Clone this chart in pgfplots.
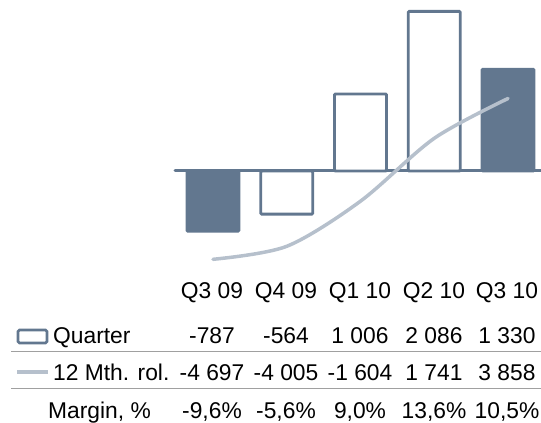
\documentclass[border=0pt]{standalone}
\usepackage{fontspec}
\setmainfont{Liberation Sans}
\usepackage{pgfplots}
\pgfplotsset{compat=1.18}
\definecolor{slate}{HTML}{62778F}
\definecolor{rolline}{HTML}{B6C0CC}
\definecolor{rulegray}{HTML}{A0A0A0}
\begin{document}
\fontsize{22.8bp}{27bp}\selectfont
\begin{tikzpicture}
\path[use as bounding box] (0,0) rectangle (541bp,-423bp);
% quarterly result, left scale
\begin{axis}[at={(175bp,0bp)}, anchor=north west, scale only axis,
  width=366bp, height=265bp, xmin=-0.515, xmax=4.447,
  ymin=-1229, ymax=2235, hide axis, clip=false]
\draw[slate, line width=3bp, line cap=round] (axis cs:-0.515,0) -- (axis cs:4.447,0);
\addplot[ybar, bar width=0.705, bar shift=0pt, draw=slate, fill=slate,
  line width=2.9bp, rounded corners=1bp] coordinates {(0,-787) (4,1330)};
\addplot[ybar, bar width=0.705, bar shift=0pt, draw=slate, fill=white,
  line width=2.9bp, rounded corners=1bp] coordinates {(1,-564) (2,1006) (3,2086)};
\end{axis}
% 12 month rolling, own scale
\begin{axis}[at={(175bp,0bp)}, anchor=north west, scale only axis,
  width=366bp, height=265bp, xmin=-0.515, xmax=4.447,
  ymin=-5000, ymax=9096, hide axis, clip=false]
\addplot[rolline, line width=3.5bp, smooth, tension=0.5, line cap=round]
  coordinates {(0,-4697) (1,-4005) (2,-1604) (3,1741) (4,3858)};
\end{axis}
% table below
\foreach \x/\t in {212/Q3 09, 286/Q4 09, 360/Q1 10, 434/Q2 10, 507/Q3 10}
  \node[anchor=base] at (\x bp,-298bp) {\t};
\foreach \x/\t in {212/-787, 286/-564, 360/1 006, 434/2 086, 507/1 330}
  \node[anchor=base] at (\x bp,-343bp) {\t};
\foreach \x/\t in {212/-4 697, 286/-4 005, 360/-1 604, 434/1 741, 507/3 858}
  \node[anchor=base] at (\x bp,-380bp) {\t};
\foreach \x/\t in {212/-9{,}6\%, 286/-5{,}6\%, 360/9{,}0\%, 434/13{,}6\%, 507/10{,}5\%}
  \node[anchor=base] at (\x bp,-418bp) {\t};
\draw[rulegray, line width=0.8bp] (11bp,-351bp) -- (541bp,-351bp);
\draw[rulegray, line width=0.8bp] (11bp,-388bp) -- (541bp,-388bp);
\draw[slate, line width=2.7bp, rounded corners=1.5bp, fill=white] (18bp,-330bp) rectangle (47bp,-343bp);
\draw[rolline, line width=3.5bp] (17bp,-372bp) -- (48bp,-372bp);
\node[anchor=base west, inner sep=0pt] at (53bp,-343bp) {Quarter};
\node[anchor=base west, inner sep=0pt] at (53bp,-380bp) {12 Mth. rol.};
\node[anchor=base west, inner sep=0pt] at (48bp,-418bp) {Margin, \%};
\end{tikzpicture}
\end{document}
